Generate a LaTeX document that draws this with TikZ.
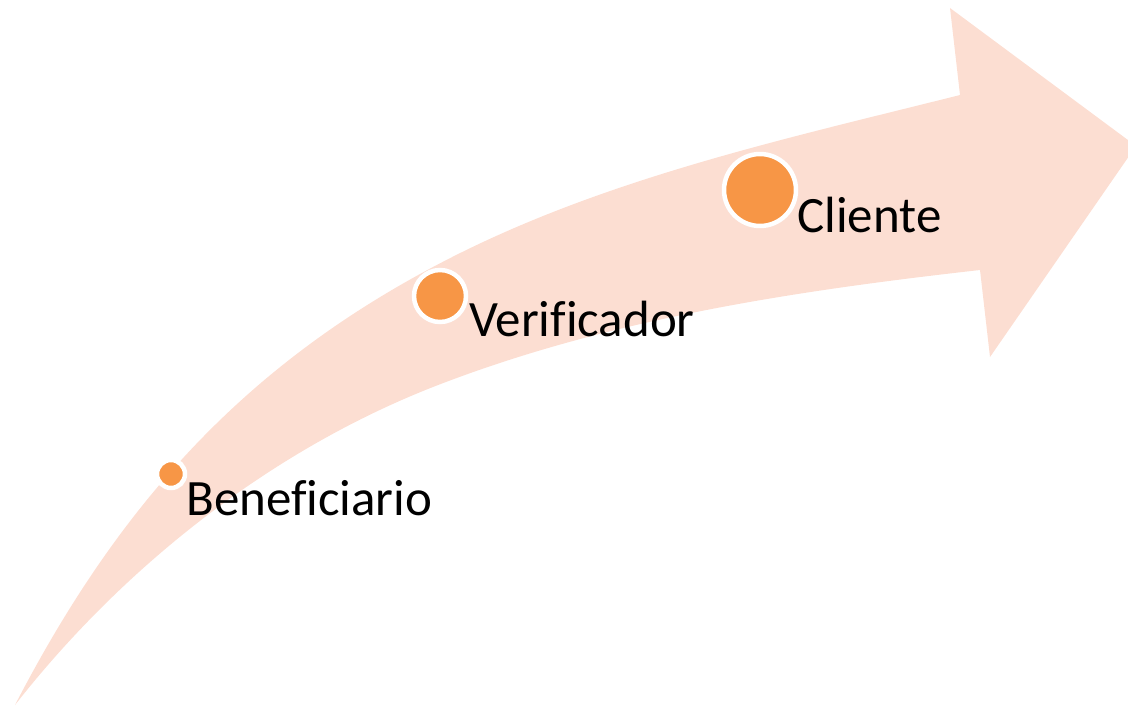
\documentclass[tikz,border=0pt]{standalone}
\usepackage{fontspec}
\setmainfont{Carlito}[Ligatures=NoCommon]
\definecolor{arrowpink}{RGB}{252,222,210}
\definecolor{dotorange}{RGB}{247,150,70}

\begin{document}
\begin{tikzpicture}[x=0.02cm, y=-0.02cm,
  stepdot/.style={circle, fill=dotorange, draw=white, line width=0.09cm, inner sep=0pt},
  steplabel/.style={anchor=base west, inner sep=0pt, font=\fontsize{29}{35}\selectfont}
]
  \useasboundingbox (0,0) rectangle (1128,706);
  \clip (0,0) rectangle (1128,706);

  % Curved arrow
  \fill[arrowpink] (15,705) .. controls (116,510) and (239,370) .. (433,267)
    .. controls (596,180) and (781,140) .. (960,95)
    -- (950,8) -- (1136,146) -- (990,357) -- (980,270)
    .. controls (794,291) and (607,319) .. (433,387)
    .. controls (270,451) and (123,567) .. (15,705) -- cycle;

  % Steps
  \node[stepdot, minimum size=0.56cm] (benefdot) at (171,474) {};
  \node[steplabel] (benef) at (186,515) {Beneficiario};

  \node[stepdot, minimum size=1.04cm] (verifdot) at (440,296) {};
  \node[steplabel] (verif) at (469,336) {Verificador};

  \node[stepdot, minimum size=1.44cm] (clientedot) at (760,190) {};
  \node[steplabel] (cliente) at (797,232) {Cliente};
\end{tikzpicture}
\end{document}
